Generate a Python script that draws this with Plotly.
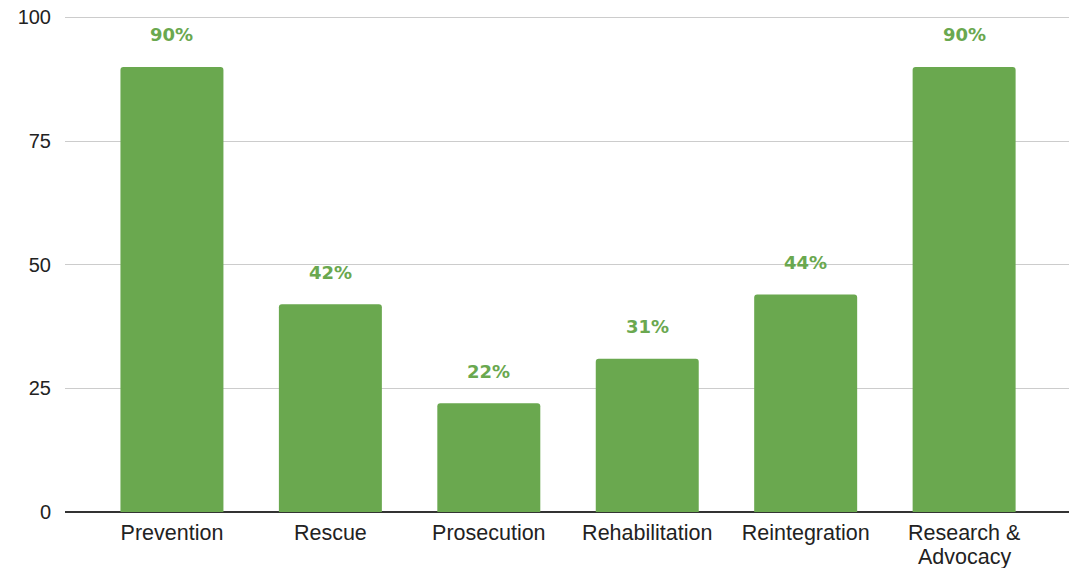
import plotly.graph_objects as go

categories = ["Prevention", "Rescue", "Prosecution", "Rehabilitation",
              "Reintegration", "Research & Advocacy"]
values = [90, 42, 22, 31, 44, 90]
y_ticks = [0, 25, 50, 75, 100]

GREEN = "#6aa84f"
TEXT = "#222222"
LABEL_FONT = dict(family="Liberation Sans, Arial, sans-serif", size=21.5, color=TEXT)

# Long category names wrap onto a second line; the tick shows the first part,
# the remainder is placed just underneath with tighter line spacing.
first_lines, second_lines = [], []
for c in categories:
    if c == "Research & Advocacy":
        first_lines.append("Research &")
        second_lines.append("Advocacy")
    else:
        first_lines.append(c)
        second_lines.append("")

fig = go.Figure(
    go.Bar(
        x=categories,
        y=values,
        width=0.65,
        marker=dict(color=GREEN, cornerradius=3, line=dict(width=0)),
        hoverinfo="x+y",
    )
)

# value labels floating above each bar
for cat, v in zip(categories, values):
    fig.add_annotation(
        x=cat, y=v, text=f"{v}%", showarrow=False,
        yshift=32, yanchor="middle",
        font=dict(family="DejaVu Sans", size=18, color=GREEN, weight="bold"),
    )

# second line of wrapped category labels
for cat, extra in zip(categories, second_lines):
    if extra:
        fig.add_annotation(
            x=cat, y=0, text=extra, showarrow=False,
            yanchor="bottom", yshift=-57.5, borderpad=0,
            font=LABEL_FONT,
        )

fig.update_layout(
    width=1069, height=568,
    margin=dict(l=65, r=0, t=16, b=56),
    paper_bgcolor="white", plot_bgcolor="white",
    showlegend=False,
    font=dict(family="Liberation Sans, Arial, sans-serif", color=TEXT),
    xaxis=dict(
        type="category",
        range=[-0.675, 5.662],
        tickvals=categories,
        ticktext=first_lines,
        automargin=False,
        showgrid=False, showline=False, ticks="",
        tickfont=LABEL_FONT,
        ticklabelstandoff=5,
    ),
    yaxis=dict(
        range=[0, 100.3],
        tickvals=y_ticks,
        automargin=False,
        showgrid=True, gridcolor="#cccccc", gridwidth=1,
        zeroline=True, zerolinecolor="#333333", zerolinewidth=1.5,
        showline=False, ticks="",
        tickfont=dict(size=20, color=TEXT),
        ticklabelstandoff=13,
    ),
)

fig.write_html("out.html")
